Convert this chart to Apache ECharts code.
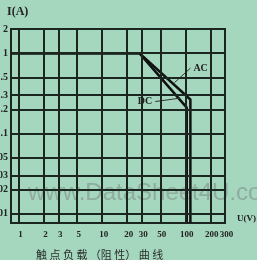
<!DOCTYPE html>
<html>
<head>
<meta charset="utf-8">
<script src="https://cdn.jsdelivr.net/npm/echarts@6/dist/echarts.min.js"></script>
<style>
html,body{margin:0;padding:0;background:#a5d7be;}
#chart{width:257px;height:260px;}
</style>
</head>
<body>
<div id="chart"></div>
<script>
// tick values (log axes)
var xTicks = [1, 2, 3, 5, 10, 20, 30, 50, 100, 200, 300];
var yTicks = [0.01, 0.02, 0.03, 0.05, 0.1, 0.2, 0.3, 0.5, 1, 2];
var yTickLabels = ['.01', '.02', '.03', '.05', '.1', '.2', '.3', '.5', '1', '2'];

// load curves  [U(V), I(A)]
var acCurve = [[0.8, 1], [28, 1], [115, 0.265], [115, 0.0077]];
var dcCurve = [[0.8, 1], [28, 1], [104, 0.21], [104, 0.0077]];

// leader lines for the AC / DC labels
var acPointer = [[74, 0.43], [115, 0.65]];
var dcPointer = [[43.5, 0.25], [87, 0.276]];

var ink = '#1b2620';

function yLabel(v) {
    for (var i = 0; i < yTicks.length; ++i) {
        if (Math.abs(v - yTicks[i]) < yTicks[i] * 0.01) return yTickLabels[i];
    }
    return '';
}

// grid lines at the custom ticks (log axis split lines only follow decades)
var gridLines = [];
for (var i = 0; i < xTicks.length; ++i) gridLines.push({ xAxis: xTicks[i] });
for (var j = 0; j < yTicks.length; ++j) gridLines.push({ yAxis: yTicks[j] });

var myChart = echarts.init(document.getElementById('chart'));
var option = {
    animation: false,
    backgroundColor: '#a5d7be',
    grid: {
        left: 11, top: 29, right: 32, bottom: 37, outerBoundsMode: 'none',
        show: true, borderColor: ink, borderWidth: 2, backgroundColor: 'transparent'
    },
    title: {
        text: '触 点 负 载 （阻 性） 曲 线',
        left: 31, top: 244,
        textStyle: { fontSize: 11, fontWeight: 'normal', color: '#2a2f2c', fontFamily: 'Noto Sans CJK SC' }
    },
    graphic: [{
        type: 'text', left: 28, top: 181, silent: true,
        style: { text: 'www.DataSheet4U.com', fontSize: 24, fontFamily: 'Liberation Sans', fill: 'rgba(120,130,128,0.5)' }
    }],
    xAxis: {
        type: 'log', min: 0.8, max: 300,
        name: 'U(V)', nameLocation: 'end', nameGap: 12,
        nameTextStyle: { fontSize: 9, fontFamily: 'Liberation Serif', fontWeight: 'bold', color: '#222', verticalAlign: 'bottom' },
        axisLine: { show: true, lineStyle: { color: ink, width: 2 } },
        axisTick: { show: false, customValues: xTicks },
        axisLabel: { customValues: xTicks, interval: 0, margin: 7, padding: [0, 0, 0, 3],
                     fontSize: 9, fontFamily: 'Liberation Serif', fontWeight: 'bold', color: '#222',
                     hideOverlap: false, showMinLabel: true, showMaxLabel: true },
        splitLine: { show: false },
        minorTick: { show: false }, minorSplitLine: { show: false }
    },
    yAxis: {
        type: 'log', min: 0.0077, max: 2,
        name: 'I(A)', nameLocation: 'end', nameGap: 11,
        nameTextStyle: { fontSize: 12, fontFamily: 'Liberation Serif', fontWeight: 'bold', color: '#222', align: 'left', padding: [0, 0, 0, -4] },
        axisLine: { show: true, lineStyle: { color: ink, width: 2 } },
        axisTick: { show: false, customValues: yTicks },
        axisLabel: { customValues: yTicks, interval: 0, margin: 3, fontSize: 10, fontFamily: 'Liberation Serif', fontWeight: 'bold', color: '#222', formatter: yLabel, showMaxLabel: true },
        splitLine: { show: false }
    },
    series: [
        { type: 'line', data: [], silent: true,
          markLine: { silent: true, symbol: 'none', label: { show: false },
                      lineStyle: { color: ink, width: 2, type: 'solid' }, data: gridLines } },
        { name: 'AC', type: 'line', data: acCurve, showSymbol: false, silent: true,
          lineStyle: { color: '#111', width: 2.5 } },
        { name: 'DC', type: 'line', data: dcCurve, showSymbol: false, silent: true,
          lineStyle: { color: '#111', width: 2.5 } },
        { type: 'line', silent: true, symbol: 'circle', symbolSize: 0,
          lineStyle: { color: '#333', width: 1 },
          data: [acPointer[0], { value: acPointer[1], label: { show: true, formatter: 'AC', position: 'right', distance: 3,
                fontSize: 10, fontFamily: 'Liberation Serif', fontWeight: 'bold', color: '#222' } }] },
        { type: 'line', silent: true, symbol: 'circle', symbolSize: 0,
          lineStyle: { color: '#333', width: 1 },
          data: [{ value: dcPointer[0], label: { show: true, formatter: 'DC', position: 'left', distance: 3,
                fontSize: 10, fontFamily: 'Liberation Serif', fontWeight: 'bold', color: '#222' } }, dcPointer[1]] }
    ]
};
myChart.setOption(option);
</script>
</body>
</html>
